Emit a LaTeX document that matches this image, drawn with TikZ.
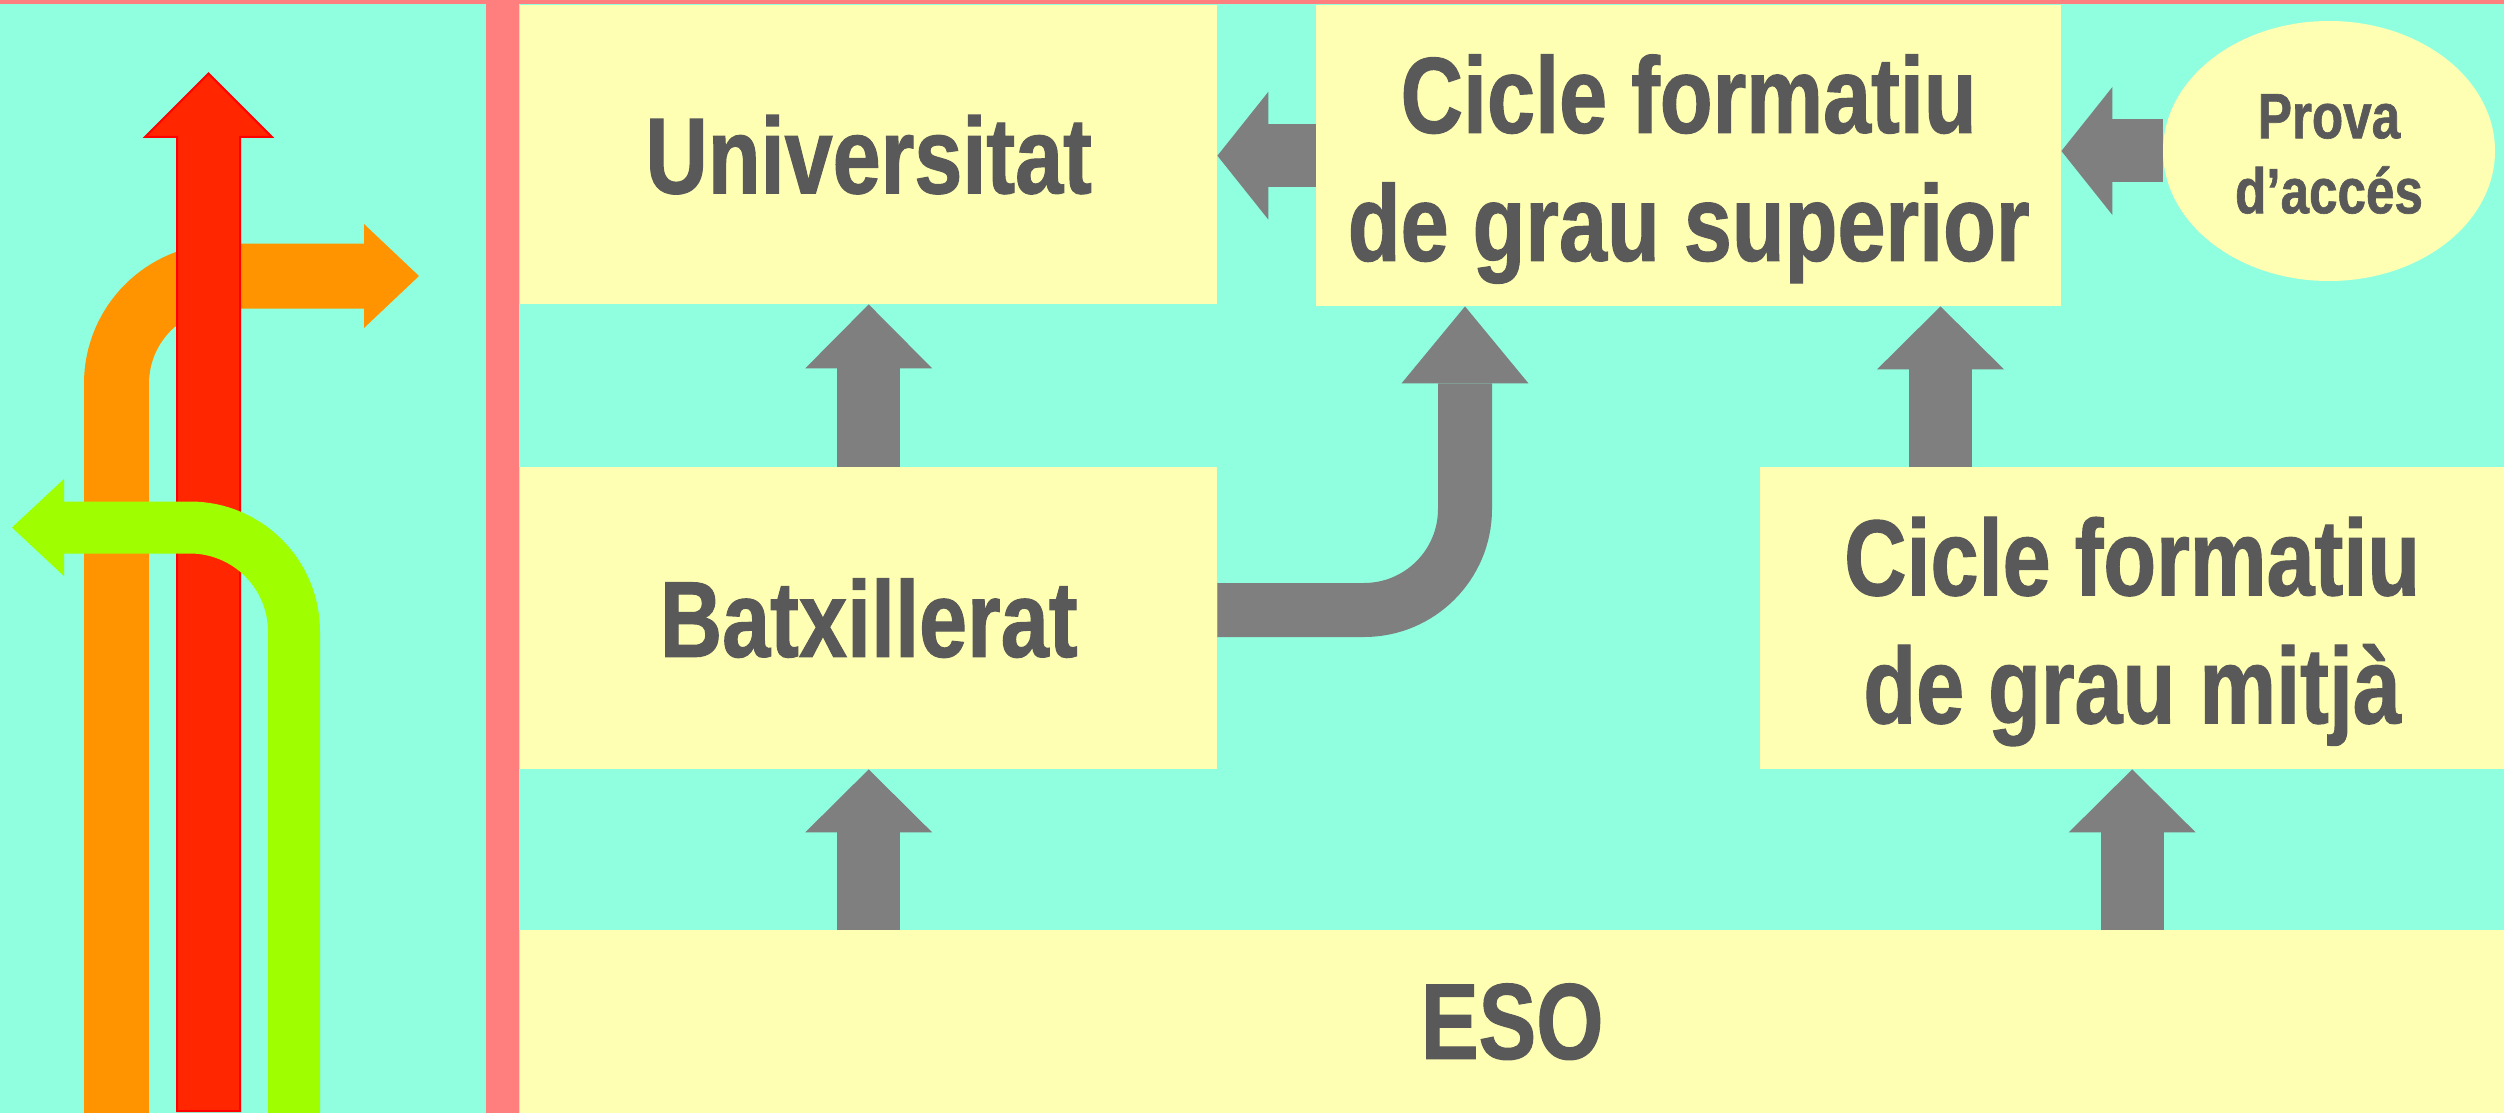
\documentclass[tikz,border=0pt]{standalone}
\usepackage{fontspec}
\newfontfamily\lab{Liberation Sans}[FakeStretch=0.8,FakeBold=1]
\usetikzlibrary{arrows.meta,shapes.geometric}
\definecolor{bgcyan}{RGB}{143,255,224}
\definecolor{boxyellow}{RGB}{255,255,179}
\definecolor{barpink}{RGB}{255,127,127}
\definecolor{arrowgray}{RGB}{127,127,127}
\definecolor{textgray}{RGB}{89,89,89}
\definecolor{arrorange}{RGB}{255,148,0}
\definecolor{arrgreen}{RGB}{159,255,0}
\definecolor{arrred}{RGB}{255,38,0}
\newcommand\mystrut{\rule{0pt}{105pt}}
\tikzset{
  box/.style={fill=boxyellow, draw=none, inner sep=0pt, anchor=north west,
    align=center, text=textgray, font=\lab\bfseries\fontsize{108pt}{128pt}\selectfont},
  flow/.style={draw=arrowgray, line width=63pt},
  vhead/.style={-{Triangle[length=63pt,width=127pt,line width=0pt]}},
  hhead/.style={-{Triangle[length=51pt,width=128pt,line width=0pt]}}
}
\begin{document}
\begin{tikzpicture}[x=1pt,y=-1pt]
\useasboundingbox (0,0) rectangle (2504,1113);
\fill[bgcyan] (0,0) rectangle (2504,1113);
\fill[barpink] (0,0) rectangle (2504,4);
\fill[barpink] (486,0) rectangle (519,1113);

% left panel icon
\draw[arrorange, line width=65pt, rounded corners=107.5pt,
  -{Triangle[length=55pt,width=104pt,line width=0pt]}]
  (116.5,1113) -- (116.5,276) -- (419,276);
\filldraw[fill=arrred, draw=red, line width=2pt]
  (177,1111) -- (177,137) -- (145,137) -- (208.5,73.5) -- (272,137)
  -- (240,137) -- (240,1111) -- cycle;
\draw[arrgreen, line width=52pt, rounded corners=104pt,
  -{Triangle[length=52pt,width=97pt,line width=0pt]}]
  (294,1113) -- (294,527.5) -- (12,527.5);

% boxes
\node[box, minimum width=697pt, minimum height=299pt] (univ) at (520,5) {Universitat};
\node[box, minimum width=745pt, minimum height=301pt] (cs) at (1316,5) {\mystrut Cicle formatiu\\de grau superior};
\node[box, minimum width=697pt, minimum height=302pt] (batx) at (520,467) {Batxillerat};
\node[box, minimum width=744pt, minimum height=302pt] (cm) at (1760,467) {\mystrut Cicle formatiu\\de grau mitjà};
\node[box, minimum width=1984pt, minimum height=183pt] (eso) at (520,930) {ESO};
\node[ellipse, fill=boxyellow, inner sep=0pt, minimum width=332pt, minimum height=260pt,
  align=center, text=textgray, font=\lab\bfseries\fontsize{64pt}{75pt}\selectfont]
  (prova) at (2329,151) {\rule{0pt}{50pt}Prova\\d’accés};

% connectors
\coordinate (xcm) at (1940.5,0);
\coordinate (bend) at (1465,610);
\draw[flow, -{Triangle[length=64pt,width=127pt,line width=0pt]}] (batx.north) -- (univ.south);
\draw[flow, vhead] (batx.south |- eso.north) -- (batx.south);
\draw[flow, vhead] (cm.south |- eso.north) -- (cm.south);
\draw[flow, vhead] (cm.north -| xcm) -- (cs.south -| xcm);
\draw[flow, hhead] (cs.west) -- (cs.west -| univ.east);
\draw[flow, hhead] (prova.west) -- (prova.west -| cs.east);
\draw[draw=arrowgray, line width=54pt, rounded corners=101pt,
  -{Triangle[length=77pt,width=127pt,line width=0pt]}]
  (batx.east |- bend) -- (bend) -- (cs.south -| bend);
\end{tikzpicture}
\end{document}
